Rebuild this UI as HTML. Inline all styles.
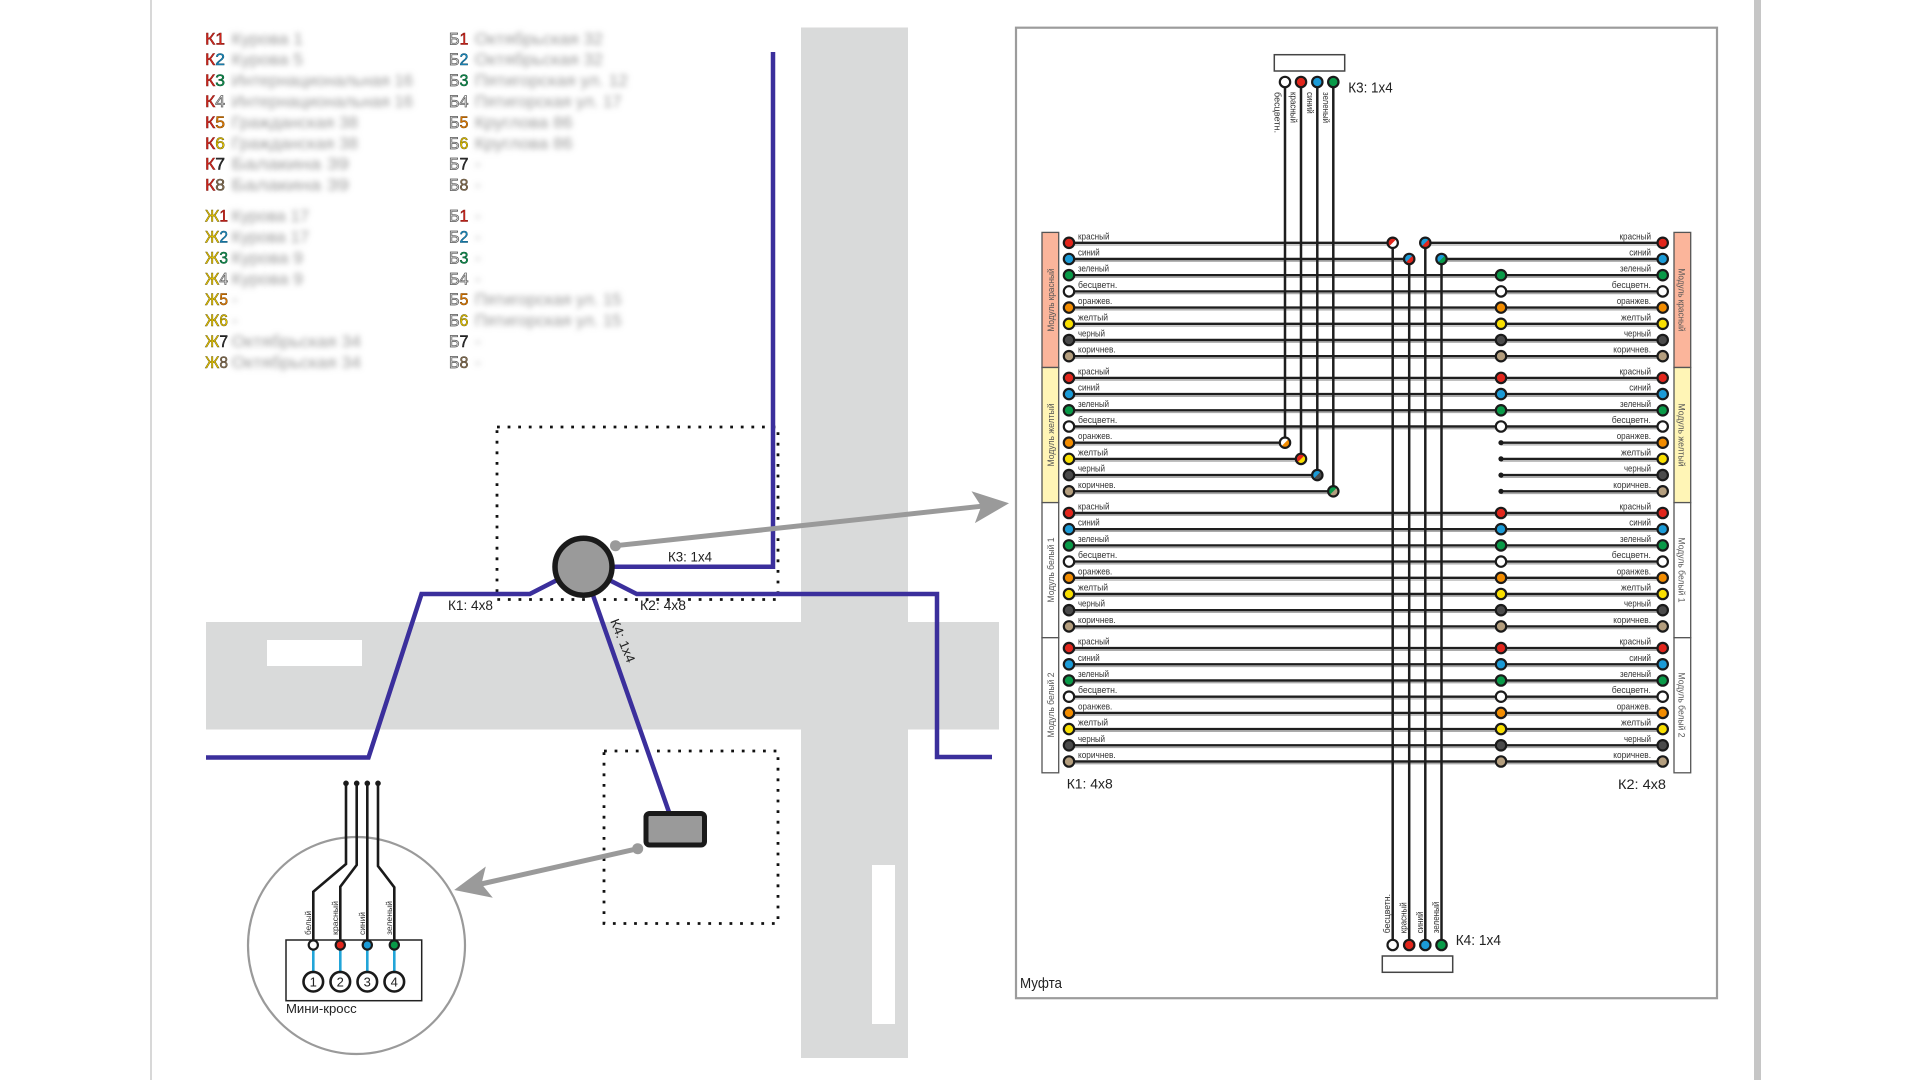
<!DOCTYPE html>
<html><head><meta charset="utf-8"><style>
html,body{margin:0;padding:0;background:#fff;}
svg{display:block;font-family:"Liberation Sans",sans-serif;}
</style></head><body>
<svg width="1920" height="1080" viewBox="0 0 1920 1080" xmlns="http://www.w3.org/2000/svg">
<defs>
<filter id="bl" x="-10%" y="-60%" width="120%" height="220%"><feGaussianBlur stdDeviation="3"/></filter>
</defs>
<rect width="1920" height="1080" fill="#fff"/>
<!-- page lines -->
<line x1="151" y1="0" x2="151" y2="1080" stroke="#c2c2c2" stroke-width="1.3"/>
<rect x="1754" y="0" width="7" height="1080" fill="#c6c6c6"/>

<!-- legend -->
<g font-size="17" stroke-width="0.5">
<text x="205" y="44.3" textLength="20" lengthAdjust="spacingAndGlyphs"><tspan fill="#d8261c" stroke="#7a1510">К</tspan><tspan fill="#d8261c" stroke="#7a1510">1</tspan></text>
<text x="205" y="65.2" textLength="20" lengthAdjust="spacingAndGlyphs"><tspan fill="#d8261c" stroke="#7a1510">К</tspan><tspan fill="#1b8fc4" stroke="#0e4d6b">2</tspan></text>
<text x="205" y="86.1" textLength="20" lengthAdjust="spacingAndGlyphs"><tspan fill="#d8261c" stroke="#7a1510">К</tspan><tspan fill="#0f9050" stroke="#07502c">3</tspan></text>
<text x="205" y="107" textLength="20" lengthAdjust="spacingAndGlyphs"><tspan fill="#d8261c" stroke="#7a1510">К</tspan><tspan fill="#fff" stroke="#666" stroke-width="0.8">4</tspan></text>
<text x="205" y="127.9" textLength="20" lengthAdjust="spacingAndGlyphs"><tspan fill="#d8261c" stroke="#7a1510">К</tspan><tspan fill="#e67e00" stroke="#7a4300">5</tspan></text>
<text x="205" y="148.8" textLength="20" lengthAdjust="spacingAndGlyphs"><tspan fill="#d8261c" stroke="#7a1510">К</tspan><tspan fill="#f2d000" stroke="#6b5a00">6</tspan></text>
<text x="205" y="169.7" textLength="20" lengthAdjust="spacingAndGlyphs"><tspan fill="#d8261c" stroke="#7a1510">К</tspan><tspan fill="#333" stroke="#111">7</tspan></text>
<text x="205" y="190.6" textLength="20" lengthAdjust="spacingAndGlyphs"><tspan fill="#d8261c" stroke="#7a1510">К</tspan><tspan fill="#8a7355" stroke="#4a3d2c">8</tspan></text>

<text x="205" y="221.6" textLength="23" lengthAdjust="spacingAndGlyphs"><tspan fill="#f2d000" stroke="#6b5a00">Ж</tspan><tspan fill="#d8261c" stroke="#7a1510">1</tspan></text>
<text x="205" y="242.5" textLength="23" lengthAdjust="spacingAndGlyphs"><tspan fill="#f2d000" stroke="#6b5a00">Ж</tspan><tspan fill="#1b8fc4" stroke="#0e4d6b">2</tspan></text>
<text x="205" y="263.4" textLength="23" lengthAdjust="spacingAndGlyphs"><tspan fill="#f2d000" stroke="#6b5a00">Ж</tspan><tspan fill="#0f9050" stroke="#07502c">3</tspan></text>
<text x="205" y="284.3" textLength="23" lengthAdjust="spacingAndGlyphs"><tspan fill="#f2d000" stroke="#6b5a00">Ж</tspan><tspan fill="#fff" stroke="#666" stroke-width="0.8">4</tspan></text>
<text x="205" y="305.2" textLength="23" lengthAdjust="spacingAndGlyphs"><tspan fill="#f2d000" stroke="#6b5a00">Ж</tspan><tspan fill="#e67e00" stroke="#7a4300">5</tspan></text>
<text x="205" y="326.1" textLength="23" lengthAdjust="spacingAndGlyphs"><tspan fill="#f2d000" stroke="#6b5a00">Ж</tspan><tspan fill="#f2d000" stroke="#6b5a00">6</tspan></text>
<text x="205" y="347" textLength="23" lengthAdjust="spacingAndGlyphs"><tspan fill="#f2d000" stroke="#6b5a00">Ж</tspan><tspan fill="#333" stroke="#111">7</tspan></text>
<text x="205" y="367.9" textLength="23" lengthAdjust="spacingAndGlyphs"><tspan fill="#f2d000" stroke="#6b5a00">Ж</tspan><tspan fill="#8a7355" stroke="#4a3d2c">8</tspan></text>

<text x="449" y="44.3" textLength="19.5" lengthAdjust="spacingAndGlyphs"><tspan fill="#fff" stroke="#555" stroke-width="0.8">Б</tspan><tspan fill="#d8261c" stroke="#7a1510">1</tspan></text>
<text x="449" y="65.2" textLength="19.5" lengthAdjust="spacingAndGlyphs"><tspan fill="#fff" stroke="#555" stroke-width="0.8">Б</tspan><tspan fill="#1b8fc4" stroke="#0e4d6b">2</tspan></text>
<text x="449" y="86.1" textLength="19.5" lengthAdjust="spacingAndGlyphs"><tspan fill="#fff" stroke="#555" stroke-width="0.8">Б</tspan><tspan fill="#0f9050" stroke="#07502c">3</tspan></text>
<text x="449" y="107" textLength="19.5" lengthAdjust="spacingAndGlyphs"><tspan fill="#fff" stroke="#555" stroke-width="0.8">Б</tspan><tspan fill="#fff" stroke="#666" stroke-width="0.8">4</tspan></text>
<text x="449" y="127.9" textLength="19.5" lengthAdjust="spacingAndGlyphs"><tspan fill="#fff" stroke="#555" stroke-width="0.8">Б</tspan><tspan fill="#e67e00" stroke="#7a4300">5</tspan></text>
<text x="449" y="148.8" textLength="19.5" lengthAdjust="spacingAndGlyphs"><tspan fill="#fff" stroke="#555" stroke-width="0.8">Б</tspan><tspan fill="#f2d000" stroke="#6b5a00">6</tspan></text>
<text x="449" y="169.7" textLength="19.5" lengthAdjust="spacingAndGlyphs"><tspan fill="#fff" stroke="#555" stroke-width="0.8">Б</tspan><tspan fill="#333" stroke="#111">7</tspan></text>
<text x="449" y="190.6" textLength="19.5" lengthAdjust="spacingAndGlyphs"><tspan fill="#fff" stroke="#555" stroke-width="0.8">Б</tspan><tspan fill="#8a7355" stroke="#4a3d2c">8</tspan></text>

<text x="449" y="221.6" textLength="19.5" lengthAdjust="spacingAndGlyphs"><tspan fill="#fff" stroke="#555" stroke-width="0.8">Б</tspan><tspan fill="#d8261c" stroke="#7a1510">1</tspan></text>
<text x="449" y="242.5" textLength="19.5" lengthAdjust="spacingAndGlyphs"><tspan fill="#fff" stroke="#555" stroke-width="0.8">Б</tspan><tspan fill="#1b8fc4" stroke="#0e4d6b">2</tspan></text>
<text x="449" y="263.4" textLength="19.5" lengthAdjust="spacingAndGlyphs"><tspan fill="#fff" stroke="#555" stroke-width="0.8">Б</tspan><tspan fill="#0f9050" stroke="#07502c">3</tspan></text>
<text x="449" y="284.3" textLength="19.5" lengthAdjust="spacingAndGlyphs"><tspan fill="#fff" stroke="#555" stroke-width="0.8">Б</tspan><tspan fill="#fff" stroke="#666" stroke-width="0.8">4</tspan></text>
<text x="449" y="305.2" textLength="19.5" lengthAdjust="spacingAndGlyphs"><tspan fill="#fff" stroke="#555" stroke-width="0.8">Б</tspan><tspan fill="#e67e00" stroke="#7a4300">5</tspan></text>
<text x="449" y="326.1" textLength="19.5" lengthAdjust="spacingAndGlyphs"><tspan fill="#fff" stroke="#555" stroke-width="0.8">Б</tspan><tspan fill="#f2d000" stroke="#6b5a00">6</tspan></text>
<text x="449" y="347" textLength="19.5" lengthAdjust="spacingAndGlyphs"><tspan fill="#fff" stroke="#555" stroke-width="0.8">Б</tspan><tspan fill="#333" stroke="#111">7</tspan></text>
<text x="449" y="367.9" textLength="19.5" lengthAdjust="spacingAndGlyphs"><tspan fill="#fff" stroke="#555" stroke-width="0.8">Б</tspan><tspan fill="#8a7355" stroke="#4a3d2c">8</tspan></text>
</g>

<!-- blurred legend descriptions -->
<g filter="url(#bl)" fill="#9a9a9a" font-size="17">
<text x="231.5" y="44.3" textLength="71.5" lengthAdjust="spacingAndGlyphs">Курова 1</text>
<text x="231.5" y="65.2" textLength="71.5" lengthAdjust="spacingAndGlyphs">Курова 5</text>
<text x="231.5" y="86.1" textLength="181.5" lengthAdjust="spacingAndGlyphs">Интернациональная 16</text>
<text x="231.5" y="107" textLength="181.5" lengthAdjust="spacingAndGlyphs">Интернациональная 16</text>
<text x="231.5" y="127.9" textLength="126.5" lengthAdjust="spacingAndGlyphs">Гражданская 38</text>
<text x="231.5" y="148.8" textLength="126.5" lengthAdjust="spacingAndGlyphs">Гражданская 38</text>
<text x="231.5" y="169.7" textLength="117.5" lengthAdjust="spacingAndGlyphs">Балакина 39</text>
<text x="231.5" y="190.6" textLength="117.5" lengthAdjust="spacingAndGlyphs">Балакина 39</text>
<text x="231.5" y="221.6" textLength="77.5" lengthAdjust="spacingAndGlyphs">Курова 17</text>
<text x="231.5" y="242.5" textLength="77.5" lengthAdjust="spacingAndGlyphs">Курова 17</text>
<text x="231.5" y="263.4" textLength="71.5" lengthAdjust="spacingAndGlyphs">Курова 9</text>
<text x="231.5" y="284.3" textLength="71.5" lengthAdjust="spacingAndGlyphs">Курова 9</text>
<text x="232" y="305.2">-</text>
<text x="232" y="326.1">-</text>
<text x="231.5" y="347" textLength="129.5" lengthAdjust="spacingAndGlyphs">Октябрьская 34</text>
<text x="231.5" y="367.9" textLength="129.5" lengthAdjust="spacingAndGlyphs">Октябрьская 34</text>

<text x="474.6" y="44.3" textLength="128.4" lengthAdjust="spacingAndGlyphs">Октябрьская 32</text>
<text x="474.6" y="65.2" textLength="128.4" lengthAdjust="spacingAndGlyphs">Октябрьская 32</text>
<text x="474.6" y="86.1" textLength="153.4" lengthAdjust="spacingAndGlyphs">Пятигорская ул. 12</text>
<text x="474.6" y="107" textLength="147" lengthAdjust="spacingAndGlyphs">Пятигорская ул. 17</text>
<text x="474.6" y="127.9" textLength="98" lengthAdjust="spacingAndGlyphs">Круглова 86</text>
<text x="474.6" y="148.8" textLength="98" lengthAdjust="spacingAndGlyphs">Круглова 86</text>
<text x="475" y="169.7">-</text>
<text x="475" y="190.6">-</text>
<text x="475" y="221.6">-</text>
<text x="475" y="242.5">-</text>
<text x="475" y="263.4">-</text>
<text x="475" y="284.3">-</text>
<text x="474.6" y="305.2" textLength="147" lengthAdjust="spacingAndGlyphs">Пятигорская ул. 15</text>
<text x="474.6" y="326.1" textLength="147" lengthAdjust="spacingAndGlyphs">Пятигорская ул. 15</text>
<text x="475" y="347">-</text>
<text x="475" y="367.9">-</text>
</g>

<!-- map: roads -->
<rect x="801" y="27.5" width="107" height="1030.5" fill="#d9dada"/>
<rect x="206" y="622" width="793" height="107.5" fill="#d9dada"/>
<rect x="267" y="640" width="95" height="26" fill="#fff"/>
<rect x="872" y="865" width="23" height="159" fill="#fff"/>

<!-- dotted boxes -->
<g fill="none" stroke="#111" stroke-width="2.8" stroke-dasharray="2.8 7.8">
<rect x="497" y="427" width="281" height="172.5"/>
<rect x="604" y="751" width="174" height="172.5"/>
</g>

<!-- blue cables -->
<g fill="none" stroke="#3b2f9c" stroke-width="4.5" stroke-linejoin="miter">
<path d="M773 52V566.7H583"/>
<path d="M206 757.5H368.5L421.5 594H529.8L583 566.7"/>
<path d="M583 566.7L636.7 594H937V757H992"/>
<path d="M583 566.7L670 815"/>
</g>
<circle cx="583.5" cy="566.7" r="28.5" fill="#9a9a9a" stroke="#1a1a1a" stroke-width="5.5"/>
<rect x="646" y="813.5" width="58.5" height="31.5" rx="3.5" fill="#9a9a9a" stroke="#1a1a1a" stroke-width="5"/>

<g font-size="14" fill="#222">
<text x="668" y="561.7" textLength="44" lengthAdjust="spacingAndGlyphs">К3: 1х4</text>
<text x="448" y="610" textLength="45" lengthAdjust="spacingAndGlyphs">К1: 4х8</text>
<text x="640" y="610" textLength="46" lengthAdjust="spacingAndGlyphs">К2: 4х8</text>
<text transform="translate(610,621) rotate(68)" font-size="13" textLength="46" lengthAdjust="spacingAndGlyphs">К4: 1х4</text>
</g>

<!-- arrows -->
<g fill="#9a9a9a" stroke="none">
<line x1="615.5" y1="545.7" x2="982" y2="506.2" stroke="#9a9a9a" stroke-width="5"/>
<circle cx="615.5" cy="545.7" r="5.5"/>
<polygon points="1009,503.3 974.9,523.1 981.2,506.3 971.5,491.3"/>
<line x1="637.7" y1="848.7" x2="481" y2="884" stroke="#9a9a9a" stroke-width="5"/>
<circle cx="637.7" cy="848.7" r="5.5"/>
<polygon points="454.2,890 492.8,897.7 481.5,883.9 485.8,866.5"/>
</g>

<!-- mini cross -->
<circle cx="356.5" cy="945.5" r="108.5" fill="none" stroke="#9a9a9a" stroke-width="2.2"/>
<g fill="none" stroke="#1a1a1a" stroke-width="2.6" stroke-linejoin="miter">
<path d="M346 783.3V864L313.3 891.7V945"/>
<path d="M356.7 783.3V865L340.3 886.7V945"/>
<path d="M367.3 783.3V945"/>
<path d="M378 783.3V866L394.3 887.3V945"/>
</g>
<g fill="#1a1a1a">
<circle cx="346" cy="783.3" r="2.8"/><circle cx="356.7" cy="783.3" r="2.8"/><circle cx="367.3" cy="783.3" r="2.8"/><circle cx="378" cy="783.3" r="2.8"/>
</g>
<rect x="286" y="940" width="135.7" height="60.7" fill="none" stroke="#222" stroke-width="1.5"/>
<g stroke="#22a5d8" stroke-width="2.6">
<line x1="313.3" y1="950" x2="313.3" y2="972"/><line x1="340.3" y1="950" x2="340.3" y2="972"/><line x1="367.3" y1="950" x2="367.3" y2="972"/><line x1="394.3" y1="950" x2="394.3" y2="972"/>
</g>
<g stroke="#1a1a1a" stroke-width="2.2">
<circle cx="313.3" cy="945" r="4.6" fill="#fff"/><circle cx="340.3" cy="945" r="4.6" fill="#e2261c"/><circle cx="367.3" cy="945" r="4.6" fill="#1b9bd7"/><circle cx="394.3" cy="945" r="4.6" fill="#099a48"/>
</g>
<g stroke="#1a1a1a" stroke-width="2.6" fill="#fff">
<circle cx="313.3" cy="981.7" r="9.8"/><circle cx="340.3" cy="981.7" r="9.8"/><circle cx="367.3" cy="981.7" r="9.8"/><circle cx="394.3" cy="981.7" r="9.8"/>
</g>
<g font-size="13" fill="#222" text-anchor="middle">
<text x="313.3" y="986.5">1</text><text x="340.3" y="986.5">2</text><text x="367.3" y="986.5">3</text><text x="394.3" y="986.5">4</text>
</g>
<g font-size="8.5" fill="#333">
<text transform="translate(310.8,935) rotate(-90)" textLength="24" lengthAdjust="spacingAndGlyphs">белый</text>
<text transform="translate(337.8,935) rotate(-90)" textLength="34" lengthAdjust="spacingAndGlyphs">красный</text>
<text transform="translate(364.8,935) rotate(-90)" textLength="23" lengthAdjust="spacingAndGlyphs">синий</text>
<text transform="translate(391.8,935) rotate(-90)" textLength="34" lengthAdjust="spacingAndGlyphs">зеленый</text>
</g>
<text x="286" y="1013" font-size="13" fill="#222" textLength="70.7" lengthAdjust="spacingAndGlyphs">Мини-кросс</text>

<!-- ===== Right panel (Муфта) ===== -->
<rect x="1016" y="27.7" width="701" height="970.5" fill="none" stroke="#9c9c9c" stroke-width="2.2"/>
<text x="1020" y="988" font-size="15" fill="#222" textLength="42" lengthAdjust="spacingAndGlyphs">Муфта</text>

<!-- module bars -->
<g stroke="#555" stroke-width="1.3">
<rect x="1042" y="232.4" width="16.7" height="135.1" fill="#fbb59b"/>
<rect x="1042" y="367.5" width="16.7" height="135.1" fill="#fff5b6"/>
<rect x="1042" y="502.6" width="16.7" height="135.1" fill="#fff"/>
<rect x="1042" y="637.7" width="16.7" height="135.1" fill="#fff"/>
<rect x="1674" y="232.4" width="16.7" height="135.1" fill="#fbb59b"/>
<rect x="1674" y="367.5" width="16.7" height="135.1" fill="#fff5b6"/>
<rect x="1674" y="502.6" width="16.7" height="135.1" fill="#fff"/>
<rect x="1674" y="637.7" width="16.7" height="135.1" fill="#fff"/>
</g>
<g font-size="9.5" fill="#555" text-anchor="middle">
<text transform="translate(1053.8,300) rotate(-90)" textLength="63" lengthAdjust="spacingAndGlyphs">Модуль красный</text>
<text transform="translate(1053.8,435) rotate(-90)" textLength="63" lengthAdjust="spacingAndGlyphs">Модуль желтый</text>
<text transform="translate(1053.8,570) rotate(-90)" textLength="65" lengthAdjust="spacingAndGlyphs">Модуль белый 1</text>
<text transform="translate(1053.8,705) rotate(-90)" textLength="65" lengthAdjust="spacingAndGlyphs">Модуль белый 2</text>
<text transform="translate(1678.6,300) rotate(90)" textLength="63" lengthAdjust="spacingAndGlyphs">Модуль красный</text>
<text transform="translate(1678.6,435) rotate(90)" textLength="63" lengthAdjust="spacingAndGlyphs">Модуль желтый</text>
<text transform="translate(1678.6,570) rotate(90)" textLength="65" lengthAdjust="spacingAndGlyphs">Модуль белый 1</text>
<text transform="translate(1678.6,705) rotate(90)" textLength="65" lengthAdjust="spacingAndGlyphs">Модуль белый 2</text>
</g>

<!-- K3 and K4 boxes -->
<rect x="1274.3" y="54.7" width="70.4" height="16.3" fill="#fff" stroke="#444" stroke-width="1.5"/>
<rect x="1382.3" y="956" width="70.4" height="16.3" fill="#fff" stroke="#444" stroke-width="1.5"/>

<!-- horizontal wires: shadow -->
<path d="M1069 242.8H1392.7M1425.3 242.8H1662.7M1069 259H1409.2M1441.5 259H1662.7M1069 275.2H1662.7M1069 291.4H1662.7M1069 307.6H1662.7M1069 323.8H1662.7M1069 340H1662.7M1069 356.2H1662.7M1069 377.9H1662.7M1069 394.1H1662.7M1069 410.3H1662.7M1069 426.5H1662.7M1069 442.7H1285M1501 442.7H1662.7M1069 458.9H1301M1501 458.9H1662.7M1069 475.1H1317.3M1501 475.1H1662.7M1069 491.3H1333.3M1501 491.3H1662.7M1069 513H1662.7M1069 529.2H1662.7M1069 545.4H1662.7M1069 561.6H1662.7M1069 577.8H1662.7M1069 594H1662.7M1069 610.2H1662.7M1069 626.4H1662.7M1069 648.1H1662.7M1069 664.3H1662.7M1069 680.5H1662.7M1069 696.7H1662.7M1069 712.9H1662.7M1069 729.1H1662.7M1069 745.3H1662.7M1069 761.5H1662.7" fill="none" stroke="#ababab" stroke-width="1.3" transform="translate(0,2.2)"/>
<!-- horizontal wires -->
<path d="M1069 242.8H1392.7M1425.3 242.8H1662.7M1069 259H1409.2M1441.5 259H1662.7M1069 275.2H1662.7M1069 291.4H1662.7M1069 307.6H1662.7M1069 323.8H1662.7M1069 340H1662.7M1069 356.2H1662.7M1069 377.9H1662.7M1069 394.1H1662.7M1069 410.3H1662.7M1069 426.5H1662.7M1069 442.7H1285M1501 442.7H1662.7M1069 458.9H1301M1501 458.9H1662.7M1069 475.1H1317.3M1501 475.1H1662.7M1069 491.3H1333.3M1501 491.3H1662.7M1069 513H1662.7M1069 529.2H1662.7M1069 545.4H1662.7M1069 561.6H1662.7M1069 577.8H1662.7M1069 594H1662.7M1069 610.2H1662.7M1069 626.4H1662.7M1069 648.1H1662.7M1069 664.3H1662.7M1069 680.5H1662.7M1069 696.7H1662.7M1069 712.9H1662.7M1069 729.1H1662.7M1069 745.3H1662.7M1069 761.5H1662.7" fill="none" stroke="#1e1e1e" stroke-width="2.4"/>

<!-- vertical wires -->
<path d="M1285 82V442.7M1301 82V458.9M1317.3 82V475.1M1333.3 82V491.3M1392.7 242.8V945M1409.2 259V945M1425.3 242.8V945M1441.5 259V945" fill="none" stroke="#1e1e1e" stroke-width="2.5"/>

<!-- K3 / K4 end dots -->
<g stroke="#1a1a1a" stroke-width="2.2">
<circle cx="1285" cy="82" r="5.2" fill="#fff"/><circle cx="1301" cy="82" r="5.2" fill="#e2261c"/><circle cx="1317.3" cy="82" r="5.2" fill="#1b9bd7"/><circle cx="1333.3" cy="82" r="5.2" fill="#099a48"/>
<circle cx="1392.7" cy="945" r="5.2" fill="#fff"/><circle cx="1409.2" cy="945" r="5.2" fill="#e2261c"/><circle cx="1425.3" cy="945" r="5.2" fill="#1b9bd7"/><circle cx="1441.5" cy="945" r="5.2" fill="#099a48"/>
</g>
<g font-size="9" fill="#333">
<text transform="translate(1274.5,92) rotate(90)" textLength="41" lengthAdjust="spacingAndGlyphs">бесцветн.</text>
<text transform="translate(1290.5,92) rotate(90)" textLength="31" lengthAdjust="spacingAndGlyphs">красный</text>
<text transform="translate(1306.8,92) rotate(90)" textLength="21.7" lengthAdjust="spacingAndGlyphs">синий</text>
<text transform="translate(1322.8,92) rotate(90)" textLength="31" lengthAdjust="spacingAndGlyphs">зеленый</text>
<text transform="translate(1390.2,933.3) rotate(-90)" textLength="39.3" lengthAdjust="spacingAndGlyphs">бесцветн.</text>
<text transform="translate(1406.7,933.3) rotate(-90)" textLength="31" lengthAdjust="spacingAndGlyphs">красный</text>
<text transform="translate(1422.8,933.3) rotate(-90)" textLength="21.7" lengthAdjust="spacingAndGlyphs">синий</text>
<text transform="translate(1439,933.3) rotate(-90)" textLength="31.7" lengthAdjust="spacingAndGlyphs">зеленый</text>
</g>
<g font-size="15" fill="#222">
<text x="1348.3" y="92.5" textLength="44.4" lengthAdjust="spacingAndGlyphs">К3: 1х4</text>
<text x="1455.7" y="945" textLength="45.3" lengthAdjust="spacingAndGlyphs">К4: 1х4</text>
<text x="1066.7" y="788.3" font-size="14" textLength="46" lengthAdjust="spacingAndGlyphs">К1: 4х8</text>
<text x="1618" y="789" font-size="14" textLength="48" lengthAdjust="spacingAndGlyphs">К2: 4х8</text>
</g>

<!-- splice dots -->
<g>
<g transform="translate(1392.7,242.8)"><circle r="5.2" fill="#e2261c"/><path d="M3.68 -3.68A5.2 5.2 0 0 1 -3.68 3.68Z" fill="#fff"/><circle r="5.2" fill="none" stroke="#1a1a1a" stroke-width="2.2"/></g>
<g transform="translate(1409.2,259)"><circle r="5.2" fill="#1b9bd7"/><path d="M3.68 -3.68A5.2 5.2 0 0 1 -3.68 3.68Z" fill="#e2261c"/><circle r="5.2" fill="none" stroke="#1a1a1a" stroke-width="2.2"/></g>
<g transform="translate(1425.3,242.8)"><circle r="5.2" fill="#1b9bd7"/><path d="M3.68 -3.68A5.2 5.2 0 0 1 -3.68 3.68Z" fill="#e2261c"/><circle r="5.2" fill="none" stroke="#1a1a1a" stroke-width="2.2"/></g>
<g transform="translate(1441.5,259)"><circle r="5.2" fill="#1b9bd7"/><path d="M3.68 -3.68A5.2 5.2 0 0 1 -3.68 3.68Z" fill="#099a48"/><circle r="5.2" fill="none" stroke="#1a1a1a" stroke-width="2.2"/></g>
<g transform="translate(1285,442.7)"><circle r="5.2" fill="#fff"/><path d="M3.68 -3.68A5.2 5.2 0 0 1 -3.68 3.68Z" fill="#f28c00"/><circle r="5.2" fill="none" stroke="#1a1a1a" stroke-width="2.2"/></g>
<g transform="translate(1301,458.9)"><circle r="5.2" fill="#e2261c"/><path d="M3.68 -3.68A5.2 5.2 0 0 1 -3.68 3.68Z" fill="#f9df00"/><circle r="5.2" fill="none" stroke="#1a1a1a" stroke-width="2.2"/></g>
<g transform="translate(1317.3,475.1)"><circle r="5.2" fill="#1b9bd7"/><path d="M3.68 -3.68A5.2 5.2 0 0 1 -3.68 3.68Z" fill="#4a4a4a"/><circle r="5.2" fill="none" stroke="#1a1a1a" stroke-width="2.2"/></g>
<g transform="translate(1333.3,491.3)"><circle r="5.2" fill="#099a48"/><path d="M3.68 -3.68A5.2 5.2 0 0 1 -3.68 3.68Z" fill="#b49e7e"/><circle r="5.2" fill="none" stroke="#1a1a1a" stroke-width="2.2"/></g>
</g>

<!-- small black dots -->
<g fill="#1a1a1a">
<circle cx="1501" cy="442.7" r="2.6"/><circle cx="1501" cy="458.9" r="2.6"/><circle cx="1501" cy="475.1" r="2.6"/><circle cx="1501" cy="491.3" r="2.6"/>
</g>

<!-- left, middle, right dots -->
<g stroke="#1a1a1a" stroke-width="2.2">
<circle cx="1069" cy="242.8" r="5.2" fill="#e2261c"/><circle cx="1662.7" cy="242.8" r="5.2" fill="#e2261c"/>
<circle cx="1069" cy="259" r="5.2" fill="#1b9bd7"/><circle cx="1662.7" cy="259" r="5.2" fill="#1b9bd7"/>
<circle cx="1069" cy="275.2" r="5.2" fill="#099a48"/><circle cx="1501" cy="275.2" r="5.2" fill="#099a48"/><circle cx="1662.7" cy="275.2" r="5.2" fill="#099a48"/>
<circle cx="1069" cy="291.4" r="5.2" fill="#fff"/><circle cx="1501" cy="291.4" r="5.2" fill="#fff"/><circle cx="1662.7" cy="291.4" r="5.2" fill="#fff"/>
<circle cx="1069" cy="307.6" r="5.2" fill="#f28c00"/><circle cx="1501" cy="307.6" r="5.2" fill="#f28c00"/><circle cx="1662.7" cy="307.6" r="5.2" fill="#f28c00"/>
<circle cx="1069" cy="323.8" r="5.2" fill="#f9df00"/><circle cx="1501" cy="323.8" r="5.2" fill="#f9df00"/><circle cx="1662.7" cy="323.8" r="5.2" fill="#f9df00"/>
<circle cx="1069" cy="340" r="5.2" fill="#4a4a4a"/><circle cx="1501" cy="340" r="5.2" fill="#4a4a4a"/><circle cx="1662.7" cy="340" r="5.2" fill="#4a4a4a"/>
<circle cx="1069" cy="356.2" r="5.2" fill="#b49e7e"/><circle cx="1501" cy="356.2" r="5.2" fill="#b49e7e"/><circle cx="1662.7" cy="356.2" r="5.2" fill="#b49e7e"/>
<circle cx="1069" cy="377.9" r="5.2" fill="#e2261c"/><circle cx="1501" cy="377.9" r="5.2" fill="#e2261c"/><circle cx="1662.7" cy="377.9" r="5.2" fill="#e2261c"/>
<circle cx="1069" cy="394.1" r="5.2" fill="#1b9bd7"/><circle cx="1501" cy="394.1" r="5.2" fill="#1b9bd7"/><circle cx="1662.7" cy="394.1" r="5.2" fill="#1b9bd7"/>
<circle cx="1069" cy="410.3" r="5.2" fill="#099a48"/><circle cx="1501" cy="410.3" r="5.2" fill="#099a48"/><circle cx="1662.7" cy="410.3" r="5.2" fill="#099a48"/>
<circle cx="1069" cy="426.5" r="5.2" fill="#fff"/><circle cx="1501" cy="426.5" r="5.2" fill="#fff"/><circle cx="1662.7" cy="426.5" r="5.2" fill="#fff"/>
<circle cx="1069" cy="442.7" r="5.2" fill="#f28c00"/><circle cx="1662.7" cy="442.7" r="5.2" fill="#f28c00"/>
<circle cx="1069" cy="458.9" r="5.2" fill="#f9df00"/><circle cx="1662.7" cy="458.9" r="5.2" fill="#f9df00"/>
<circle cx="1069" cy="475.1" r="5.2" fill="#4a4a4a"/><circle cx="1662.7" cy="475.1" r="5.2" fill="#4a4a4a"/>
<circle cx="1069" cy="491.3" r="5.2" fill="#b49e7e"/><circle cx="1662.7" cy="491.3" r="5.2" fill="#b49e7e"/>
<circle cx="1069" cy="513" r="5.2" fill="#e2261c"/><circle cx="1501" cy="513" r="5.2" fill="#e2261c"/><circle cx="1662.7" cy="513" r="5.2" fill="#e2261c"/>
<circle cx="1069" cy="529.2" r="5.2" fill="#1b9bd7"/><circle cx="1501" cy="529.2" r="5.2" fill="#1b9bd7"/><circle cx="1662.7" cy="529.2" r="5.2" fill="#1b9bd7"/>
<circle cx="1069" cy="545.4" r="5.2" fill="#099a48"/><circle cx="1501" cy="545.4" r="5.2" fill="#099a48"/><circle cx="1662.7" cy="545.4" r="5.2" fill="#099a48"/>
<circle cx="1069" cy="561.6" r="5.2" fill="#fff"/><circle cx="1501" cy="561.6" r="5.2" fill="#fff"/><circle cx="1662.7" cy="561.6" r="5.2" fill="#fff"/>
<circle cx="1069" cy="577.8" r="5.2" fill="#f28c00"/><circle cx="1501" cy="577.8" r="5.2" fill="#f28c00"/><circle cx="1662.7" cy="577.8" r="5.2" fill="#f28c00"/>
<circle cx="1069" cy="594" r="5.2" fill="#f9df00"/><circle cx="1501" cy="594" r="5.2" fill="#f9df00"/><circle cx="1662.7" cy="594" r="5.2" fill="#f9df00"/>
<circle cx="1069" cy="610.2" r="5.2" fill="#4a4a4a"/><circle cx="1501" cy="610.2" r="5.2" fill="#4a4a4a"/><circle cx="1662.7" cy="610.2" r="5.2" fill="#4a4a4a"/>
<circle cx="1069" cy="626.4" r="5.2" fill="#b49e7e"/><circle cx="1501" cy="626.4" r="5.2" fill="#b49e7e"/><circle cx="1662.7" cy="626.4" r="5.2" fill="#b49e7e"/>
<circle cx="1069" cy="648.1" r="5.2" fill="#e2261c"/><circle cx="1501" cy="648.1" r="5.2" fill="#e2261c"/><circle cx="1662.7" cy="648.1" r="5.2" fill="#e2261c"/>
<circle cx="1069" cy="664.3" r="5.2" fill="#1b9bd7"/><circle cx="1501" cy="664.3" r="5.2" fill="#1b9bd7"/><circle cx="1662.7" cy="664.3" r="5.2" fill="#1b9bd7"/>
<circle cx="1069" cy="680.5" r="5.2" fill="#099a48"/><circle cx="1501" cy="680.5" r="5.2" fill="#099a48"/><circle cx="1662.7" cy="680.5" r="5.2" fill="#099a48"/>
<circle cx="1069" cy="696.7" r="5.2" fill="#fff"/><circle cx="1501" cy="696.7" r="5.2" fill="#fff"/><circle cx="1662.7" cy="696.7" r="5.2" fill="#fff"/>
<circle cx="1069" cy="712.9" r="5.2" fill="#f28c00"/><circle cx="1501" cy="712.9" r="5.2" fill="#f28c00"/><circle cx="1662.7" cy="712.9" r="5.2" fill="#f28c00"/>
<circle cx="1069" cy="729.1" r="5.2" fill="#f9df00"/><circle cx="1501" cy="729.1" r="5.2" fill="#f9df00"/><circle cx="1662.7" cy="729.1" r="5.2" fill="#f9df00"/>
<circle cx="1069" cy="745.3" r="5.2" fill="#4a4a4a"/><circle cx="1501" cy="745.3" r="5.2" fill="#4a4a4a"/><circle cx="1662.7" cy="745.3" r="5.2" fill="#4a4a4a"/>
<circle cx="1069" cy="761.5" r="5.2" fill="#b49e7e"/><circle cx="1501" cy="761.5" r="5.2" fill="#b49e7e"/><circle cx="1662.7" cy="761.5" r="5.2" fill="#b49e7e"/>
</g>

<!-- row labels left -->
<g font-size="9.5" fill="#333">
<text x="1078" y="239.3" textLength="31.5" lengthAdjust="spacingAndGlyphs">красный</text>
<text x="1078" y="255.5" textLength="21.7" lengthAdjust="spacingAndGlyphs">синий</text>
<text x="1078" y="271.7" textLength="31" lengthAdjust="spacingAndGlyphs">зеленый</text>
<text x="1078" y="287.9" textLength="39.3" lengthAdjust="spacingAndGlyphs">бесцветн.</text>
<text x="1078" y="304.1" textLength="34.3" lengthAdjust="spacingAndGlyphs">оранжев.</text>
<text x="1078" y="320.3" textLength="30" lengthAdjust="spacingAndGlyphs">желтый</text>
<text x="1078" y="336.5" textLength="27" lengthAdjust="spacingAndGlyphs">черный</text>
<text x="1078" y="352.7" textLength="37.7" lengthAdjust="spacingAndGlyphs">коричнев.</text>
<text x="1078" y="374.4" textLength="31.5" lengthAdjust="spacingAndGlyphs">красный</text>
<text x="1078" y="390.6" textLength="21.7" lengthAdjust="spacingAndGlyphs">синий</text>
<text x="1078" y="406.8" textLength="31" lengthAdjust="spacingAndGlyphs">зеленый</text>
<text x="1078" y="423" textLength="39.3" lengthAdjust="spacingAndGlyphs">бесцветн.</text>
<text x="1078" y="439.2" textLength="34.3" lengthAdjust="spacingAndGlyphs">оранжев.</text>
<text x="1078" y="455.4" textLength="30" lengthAdjust="spacingAndGlyphs">желтый</text>
<text x="1078" y="471.6" textLength="27" lengthAdjust="spacingAndGlyphs">черный</text>
<text x="1078" y="487.8" textLength="37.7" lengthAdjust="spacingAndGlyphs">коричнев.</text>
<text x="1078" y="509.5" textLength="31.5" lengthAdjust="spacingAndGlyphs">красный</text>
<text x="1078" y="525.7" textLength="21.7" lengthAdjust="spacingAndGlyphs">синий</text>
<text x="1078" y="541.9" textLength="31" lengthAdjust="spacingAndGlyphs">зеленый</text>
<text x="1078" y="558.1" textLength="39.3" lengthAdjust="spacingAndGlyphs">бесцветн.</text>
<text x="1078" y="574.3" textLength="34.3" lengthAdjust="spacingAndGlyphs">оранжев.</text>
<text x="1078" y="590.5" textLength="30" lengthAdjust="spacingAndGlyphs">желтый</text>
<text x="1078" y="606.7" textLength="27" lengthAdjust="spacingAndGlyphs">черный</text>
<text x="1078" y="622.9" textLength="37.7" lengthAdjust="spacingAndGlyphs">коричнев.</text>
<text x="1078" y="644.6" textLength="31.5" lengthAdjust="spacingAndGlyphs">красный</text>
<text x="1078" y="660.8" textLength="21.7" lengthAdjust="spacingAndGlyphs">синий</text>
<text x="1078" y="677" textLength="31" lengthAdjust="spacingAndGlyphs">зеленый</text>
<text x="1078" y="693.2" textLength="39.3" lengthAdjust="spacingAndGlyphs">бесцветн.</text>
<text x="1078" y="709.4" textLength="34.3" lengthAdjust="spacingAndGlyphs">оранжев.</text>
<text x="1078" y="725.6" textLength="30" lengthAdjust="spacingAndGlyphs">желтый</text>
<text x="1078" y="741.8" textLength="27" lengthAdjust="spacingAndGlyphs">черный</text>
<text x="1078" y="758" textLength="37.7" lengthAdjust="spacingAndGlyphs">коричнев.</text>
</g>
<!-- row labels right -->
<g font-size="9.5" fill="#333" text-anchor="end">
<text x="1651" y="239.3" textLength="31.5" lengthAdjust="spacingAndGlyphs">красный</text>
<text x="1651" y="255.5" textLength="21.7" lengthAdjust="spacingAndGlyphs">синий</text>
<text x="1651" y="271.7" textLength="31" lengthAdjust="spacingAndGlyphs">зеленый</text>
<text x="1651" y="287.9" textLength="39.3" lengthAdjust="spacingAndGlyphs">бесцветн.</text>
<text x="1651" y="304.1" textLength="34.3" lengthAdjust="spacingAndGlyphs">оранжев.</text>
<text x="1651" y="320.3" textLength="30" lengthAdjust="spacingAndGlyphs">желтый</text>
<text x="1651" y="336.5" textLength="27" lengthAdjust="spacingAndGlyphs">черный</text>
<text x="1651" y="352.7" textLength="37.7" lengthAdjust="spacingAndGlyphs">коричнев.</text>
<text x="1651" y="374.4" textLength="31.5" lengthAdjust="spacingAndGlyphs">красный</text>
<text x="1651" y="390.6" textLength="21.7" lengthAdjust="spacingAndGlyphs">синий</text>
<text x="1651" y="406.8" textLength="31" lengthAdjust="spacingAndGlyphs">зеленый</text>
<text x="1651" y="423" textLength="39.3" lengthAdjust="spacingAndGlyphs">бесцветн.</text>
<text x="1651" y="439.2" textLength="34.3" lengthAdjust="spacingAndGlyphs">оранжев.</text>
<text x="1651" y="455.4" textLength="30" lengthAdjust="spacingAndGlyphs">желтый</text>
<text x="1651" y="471.6" textLength="27" lengthAdjust="spacingAndGlyphs">черный</text>
<text x="1651" y="487.8" textLength="37.7" lengthAdjust="spacingAndGlyphs">коричнев.</text>
<text x="1651" y="509.5" textLength="31.5" lengthAdjust="spacingAndGlyphs">красный</text>
<text x="1651" y="525.7" textLength="21.7" lengthAdjust="spacingAndGlyphs">синий</text>
<text x="1651" y="541.9" textLength="31" lengthAdjust="spacingAndGlyphs">зеленый</text>
<text x="1651" y="558.1" textLength="39.3" lengthAdjust="spacingAndGlyphs">бесцветн.</text>
<text x="1651" y="574.3" textLength="34.3" lengthAdjust="spacingAndGlyphs">оранжев.</text>
<text x="1651" y="590.5" textLength="30" lengthAdjust="spacingAndGlyphs">желтый</text>
<text x="1651" y="606.7" textLength="27" lengthAdjust="spacingAndGlyphs">черный</text>
<text x="1651" y="622.9" textLength="37.7" lengthAdjust="spacingAndGlyphs">коричнев.</text>
<text x="1651" y="644.6" textLength="31.5" lengthAdjust="spacingAndGlyphs">красный</text>
<text x="1651" y="660.8" textLength="21.7" lengthAdjust="spacingAndGlyphs">синий</text>
<text x="1651" y="677" textLength="31" lengthAdjust="spacingAndGlyphs">зеленый</text>
<text x="1651" y="693.2" textLength="39.3" lengthAdjust="spacingAndGlyphs">бесцветн.</text>
<text x="1651" y="709.4" textLength="34.3" lengthAdjust="spacingAndGlyphs">оранжев.</text>
<text x="1651" y="725.6" textLength="30" lengthAdjust="spacingAndGlyphs">желтый</text>
<text x="1651" y="741.8" textLength="27" lengthAdjust="spacingAndGlyphs">черный</text>
<text x="1651" y="758" textLength="37.7" lengthAdjust="spacingAndGlyphs">коричнев.</text>
</g>
</svg>
</body></html>
